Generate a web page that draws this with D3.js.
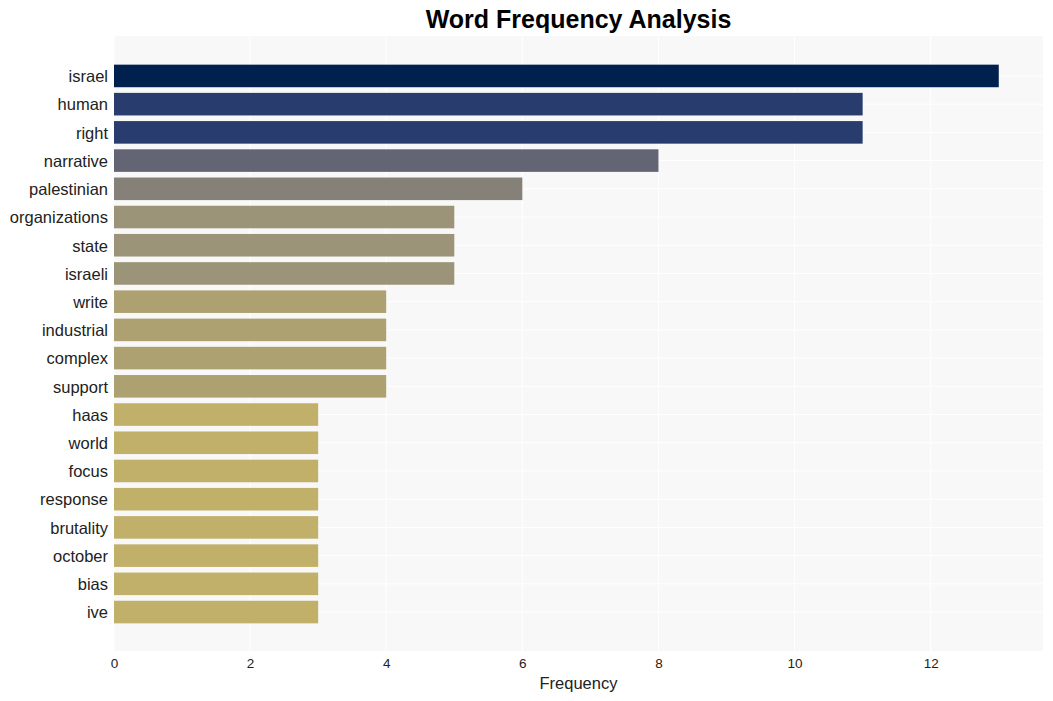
<!DOCTYPE html>
<html>
<head>
<meta charset="utf-8">
<script src="https://cdn.jsdelivr.net/npm/d3@7"></script>
<style>
    body { margin: 0; background: #fff; font-family: "Liberation Sans", Arial, sans-serif; }
    .grid line { stroke: #fff; stroke-width: 1; }
    .axis text { fill: #222; }
</style>
</head>
<body>
<div id="chart"></div>
<script>
var words = ["israel", "human", "right", "narrative", "palestinian", "organizations", "state", "israeli",
             "write", "industrial", "complex", "support", "haas", "world", "focus", "response",
             "brutality", "october", "bias", "ive"];
var counts = [13, 11, 11, 8, 6, 5, 5, 5, 4, 4, 4, 4, 3, 3, 3, 3, 3, 3, 3, 3];
var xTicks = [0, 2, 4, 6, 8, 10, 12];

var margin = {top: 37, right: 10, bottom: 50, left: 114},
        width = 1053 - margin.left - margin.right,
        height = 701 - margin.top - margin.bottom;

var x = d3.scaleLinear()
        .domain([0, 13.65])
        .range([0, width]);

var y = d3.scaleBand()
        .domain(words)
        .range([0, height])
        .paddingInner(0.2)
        .paddingOuter(0.98);

// bar colours by count (cividis-like)
var colour = d3.scaleOrdinal()
        .domain([13, 11, 8, 6, 5, 4, 3])
        .range(["#00214e", "#283d6d", "#646574", "#858179", "#9b9478", "#ada172", "#c0b06a"]);

var svg = d3.select("#chart").append("svg")
        .attr("width", 1053)
        .attr("height", 701);

svg.append("text")
        .attr("x", margin.left + width / 2)
        .attr("y", 28)
        .attr("text-anchor", "middle")
        .style("font-size", "25px")
        .style("font-weight", "bold")
        .style("fill", "#000")
        .text("Word Frequency Analysis");

var g = svg.append("g")
        .attr("transform", "translate(" + margin.left + "," + margin.top + ")");

g.append("rect")
        .attr("y", -1)
        .attr("width", width)
        .attr("height", height + 1)
        .attr("fill", "#f8f8f8");

g.append("g")
        .attr("class", "grid")
        .selectAll("line")
        .data(xTicks)
        .enter().append("line")
        .attr("x1", function(d) { return x(d); })
        .attr("x2", function(d) { return x(d); })
        .attr("y1", -1)
        .attr("y2", height);

g.append("g")
        .attr("class", "grid")
        .selectAll("line")
        .data(words)
        .enter().append("line")
        .attr("x1", 0)
        .attr("x2", width)
        .attr("y1", function(d) { return y(d) + y.bandwidth() / 2; })
        .attr("y2", function(d) { return y(d) + y.bandwidth() / 2; });

g.selectAll("rect.bar")
        .data(words)
        .enter().append("rect")
        .attr("class", "bar")
        .attr("x", 0)
        .attr("y", function(d) { return y(d); })
        .attr("height", y.bandwidth())
        .attr("width", function(d, i) { return x(counts[i]); })
        .attr("fill", function(d, i) { return colour(counts[i]); });

var xAxis = d3.axisBottom(x)
        .tickValues(xTicks)
        .tickSize(0)
        .tickPadding(7);

var yAxis = d3.axisLeft(y)
        .tickSize(0)
        .tickPadding(6);

g.append("g")
        .attr("class", "x axis")
        .attr("transform", "translate(0," + height + ")")
        .call(xAxis)
        .call(function(a) { a.select(".domain").remove(); })
        .selectAll("text")
        .style("font-size", "13.5px")
        .style("font-family", "Liberation Sans, Arial, sans-serif");

g.append("g")
        .attr("class", "y axis")
        .call(yAxis)
        .call(function(a) { a.select(".domain").remove(); })
        .selectAll("text")
        .attr("dy", "0.38em")
        .style("font-size", "16.5px")
        .style("font-family", "Liberation Sans, Arial, sans-serif");

svg.append("text")
        .attr("x", margin.left + width / 2)
        .attr("y", 689)
        .attr("text-anchor", "middle")
        .style("font-size", "16.5px")
        .style("fill", "#222")
        .text("Frequency");
</script>
</body>
</html>
